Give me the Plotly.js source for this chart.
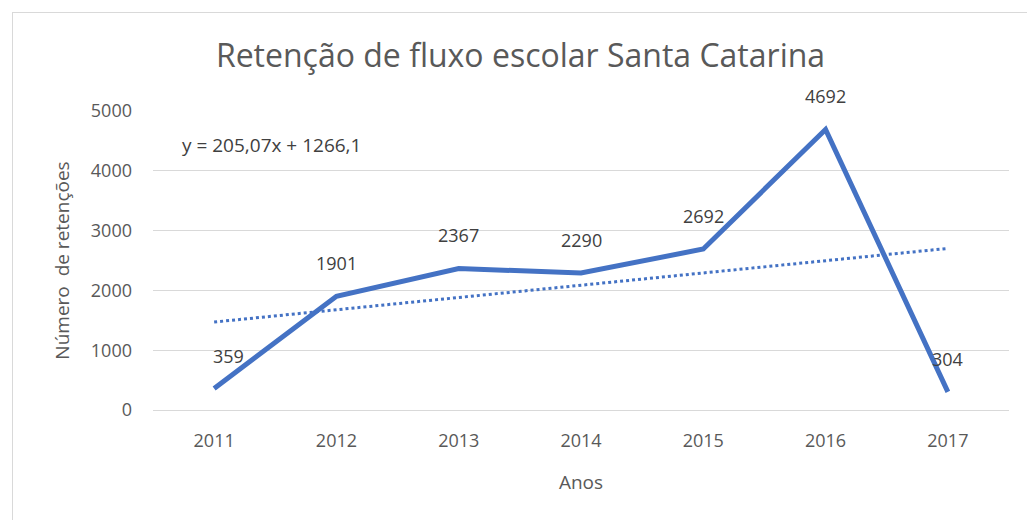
<!DOCTYPE html>
<html>
<head>
<meta charset="utf-8">
<script src="https://cdn.plot.ly/plotly-3.0.1.min.js"></script>
<style>
  body { margin: 0; background: #fff; }
  #frame { position: absolute; left: 12px; top: 12px; width: 1015px; height: 508px;
           border-left: 1px solid #d9d9d9; border-top: 1px solid #d9d9d9; box-sizing: border-box; }
  #plot { width: 1015px; height: 508px; }
</style>
</head>
<body>
<div id="frame"><div id="plot"></div></div>
<script>
// valores
const anos = ['2011', '2012', '2013', '2014', '2015', '2016', '2017'];
const retencoes = [359, 1901, 2367, 2290, 2692, 4692, 304];
// linha de tendência (extremos): y = 205,07x + 1266,1
const tendAnos = ['2011', '2017'];
const tendValores = [1471, 2702];
const equacao = 'y = 205,07x + 1266,1';

const fonte = '"Open Sans", sans-serif';
const azul = '#4472C4';

const data = [
  {
    x: tendAnos,
    y: tendValores,
    type: 'scatter',
    mode: 'lines',
    line: { color: azul, width: 3, dash: 'dot' },
    hoverinfo: 'skip'
  },
  {
    x: anos,
    y: retencoes,
    type: 'scatter',
    mode: 'lines',
    line: { color: azul, width: 5 },
    hoverinfo: 'x+y'
  }
];

// rótulos dos pontos (x pelo índice da categoria)
const labels = anos.map((a, i) => ({
  x: i, y: retencoes[i], text: String(retencoes[i]),
  showarrow: false, yshift: 33, xshift: i === 0 ? 14 : 0,
  font: { family: fonte, size: 18, color: '#404040' }
}));

labels.push({
  xref: 'paper', yref: 'paper', x: 0.138, y: 0.885,
  xanchor: 'center', yanchor: 'middle',
  text: equacao, showarrow: false,
  font: { family: fonte, size: 19, color: '#404040' }
});

Plotly.newPlot('plot', data, {
  width: 1015,
  height: 508,
  margin: { l: 140, r: 19, t: 98, b: 111 },
  paper_bgcolor: 'rgba(0,0,0,0)',
  plot_bgcolor: '#fff',
  showlegend: false,
  title: {
    text: 'Retenção de fluxo escolar Santa Catarina',
    x: 0.5, xanchor: 'center',
    y: 0.915, yanchor: 'middle',
    font: { family: fonte, size: 32, color: '#595959' }
  },
  xaxis: {
    type: 'category',
    categoryorder: 'array',
    categoryarray: anos,
    range: [-0.5, 6.5],
    showgrid: false,
    zeroline: false,
    showline: false,
    ticks: '',
    ticklabelstandoff: 18,
    tickfont: { family: fonte, size: 18, color: '#595959' },
    title: { text: 'Anos', standoff: 24, font: { family: fonte, size: 19, color: '#595959' } }
  },
  yaxis: {
    range: [0, 5000],
    dtick: 1000,
    showgrid: true,
    gridcolor: '#d9d9d9',
    gridwidth: 1,
    zeroline: true,
    zerolinecolor: '#d9d9d9',
    zerolinewidth: 1,
    showline: false,
    ticks: '',
    ticklabelstandoff: 20,
    tickfont: { family: fonte, size: 18, color: '#595959' },
    title: { text: 'Número&nbsp; de retenções', standoff: 16, font: { family: fonte, size: 19, color: '#595959' } }
  },
  annotations: labels
}, {
  displayModeBar: false
});
</script>
</body>
</html>
